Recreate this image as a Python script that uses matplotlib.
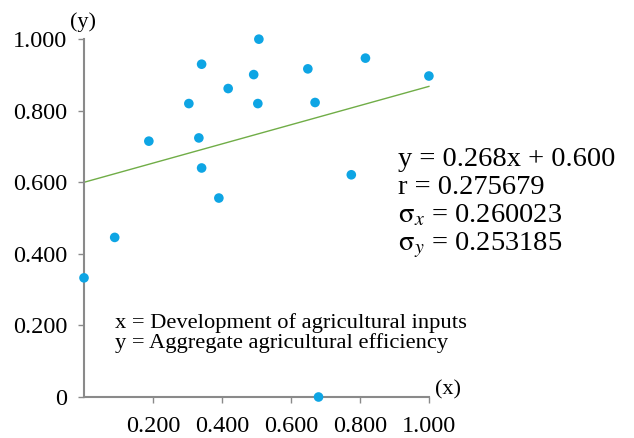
"""Scatter of agricultural inputs vs. efficiency with fitted line"""

import numpy as np
import matplotlib
matplotlib.use('Agg')
import matplotlib.pyplot as plt

plt.rcParams['font.family'] = ['Liberation Serif', 'DejaVu Serif']
plt.rcParams['mathtext.fontset'] = 'stix'

# data
x_vals = [0.000, 0.089, 0.188, 0.304, 0.333, 0.341, 0.341, 0.391, 0.418,
          0.492, 0.507, 0.504, 0.649, 0.670, 0.816, 1.000, 0.775, 0.680]
y_vals = [0.333, 0.446, 0.715, 0.820, 0.724, 0.930, 0.640, 0.556, 0.862,
          0.901, 1.000, 0.820, 0.917, 0.823, 0.947, 0.897, 0.621, 0.000]

slope = 0.268
intercept = 0.600
fit_x = [0.0, 1.0]

x_ticks = [0.2, 0.4, 0.6, 0.8, 1.0]
x_tick_labels = ['0.200', '0.400', '0.600', '0.800', '1.000']
y_ticks = [0.0, 0.2, 0.4, 0.6, 0.8, 1.0]
y_tick_labels = ['0', '0.200', '0.400', '0.600', '0.800', '1.000']

stats_lines = ['y = 0.268x + 0.600',
               'r = 0.275679',
               r'$\mathrm{\sigma}_{x}$ = 0.260023',
               r'$\mathrm{\sigma}_{y}$ = 0.253185']
legend_lines = ['x = Development of agricultural inputs',
                'y = Aggregate agricultural efficiency']

fig = plt.figure(figsize=(6.34, 4.38), dpi=100)
ax = fig.add_axes([0.1325, 0.0936, 0.544, 0.817])

fit_y = [slope * v + intercept for v in fit_x]
ax.plot(fit_x, fit_y, color='#70AD47', linewidth=1.0, clip_on=False)
ax.scatter(x_vals, y_vals, s=48, color='#0EA5E4', edgecolors='none',
           zorder=3, clip_on=False)

ax.set_xlim(0, 1.0)
ax.set_ylim(0, 1.0)

for side in ['top', 'right']:
    ax.spines[side].set_visible(False)
for side in ['left', 'bottom']:
    ax.spines[side].set_color('#8a8a8a')
    ax.spines[side].set_linewidth(1.5)

ax.set_xticks(x_ticks)
ax.set_xticklabels(x_tick_labels)
ax.set_yticks(y_ticks)
ax.set_yticklabels(y_tick_labels)
ax.tick_params(axis='both', colors='#8a8a8a', labelcolor='black',
               labelsize=17.5, length=4, width=1)
ax.tick_params(axis='x', pad=10)
ax.tick_params(axis='y', pad=8)

# axis name tags
fig.text(83 / 634, 1 - 22 / 438, '(y)', fontsize=16, ha='center', va='center')
fig.text(448 / 634, 1 - 390 / 438, '(x)', fontsize=16, ha='center', va='center')

# statistics block
for i, line in enumerate(stats_lines):
    fig.text(398 / 634, 1 - (166 + i * 28) / 438, line, fontsize=20.5,
             ha='left', va='baseline')

for i, line in enumerate(legend_lines):
    fig.text(115 / 634, 1 - (323 + i * 20) / 438, line, fontsize=16.2,
             ha='left', va='center')

plt.savefig('out.png', dpi=100)
plt.close()
